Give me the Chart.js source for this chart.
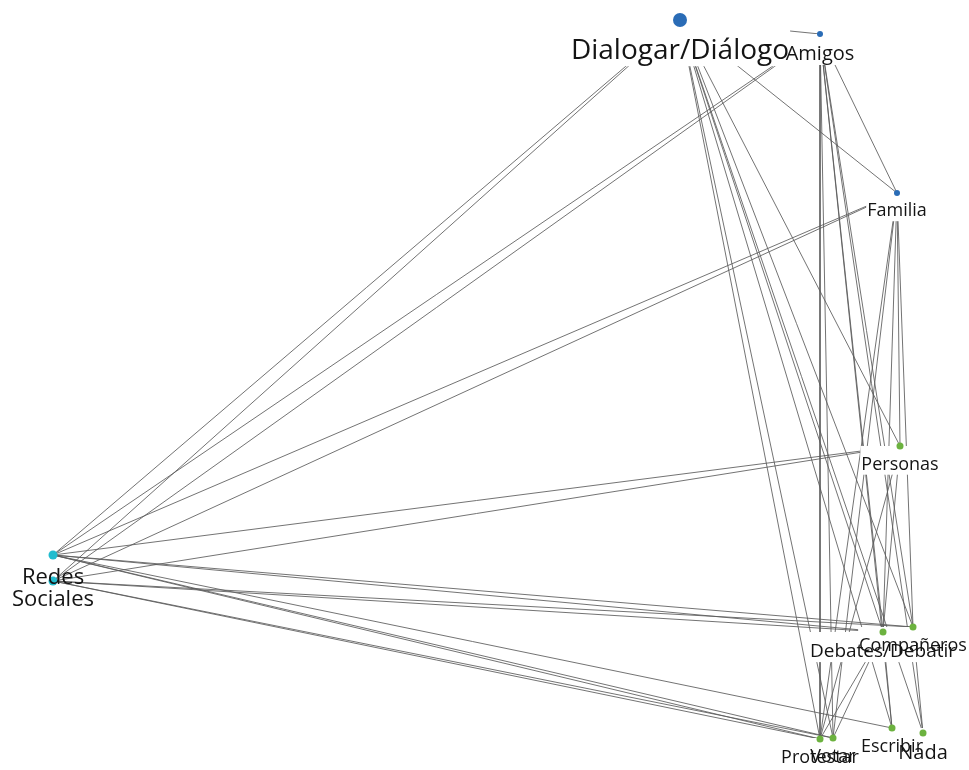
<!DOCTYPE html>
<html>
<head>
<meta charset="utf-8">
<script src="https://cdn.jsdelivr.net/npm/chart.js@4.4.0/dist/chart.umd.min.js"></script>
<style>
  body { margin: 0; background: #fff; }
  #wrap { width: 969px; height: 770px; }
</style>
</head>
<body>
<div id="wrap"><canvas id="netCanvas"></canvas></div>
<script>
// network nodes (layout coordinates) and links
const nodeNames = ['Dialogar/Diálogo', 'Amigos', 'Familia', 'Personas', 'Compañeros', 'Debates/Debatir',
                   'Escribir', 'Nada', 'Protestar', 'Votar', 'Redes\nSociales', ''];
const nodeX = [680, 820, 897, 900, 913, 883, 892, 923, 820, 833, 53, 53];
const nodeY = [20, 34, 193, 446, 627, 632, 728, 733, 739, 738, 555, 581];
const nodeWeight = [7, 3, 3, 3.5, 3.5, 3.5, 3.5, 3.5, 3.5, 3.5, 4.5, 4.5];
const nodeGroup = [1, 1, 1, 2, 2, 2, 2, 2, 2, 2, 3, 3];

const edgeFrom = [0, 0, 0, 0, 0, 0, 0, 0, 0, 0, 0,
                  1, 1, 1, 1, 1, 1, 1, 1, 1,
                  2, 2, 2, 2, 2, 2, 2,
                  3, 3, 3, 3,
                  4, 4, 4,
                  5, 5, 5, 5, 5,
                  6, 8, 8, 9, 9];
const edgeTo   = [1, 2, 3, 4, 5, 6, 7, 8, 9, 10, 11,
                  2, 4, 5, 6, 7, 8, 9, 10, 11,
                  3, 4, 5, 8, 9, 10, 11,
                  10, 11, 5, 8,
                  10, 11, 7,
                  10, 11, 8, 9, 6,
                  10, 10, 11, 10, 11];

// styling
const groupColors = { 1: '#2a6cb6', 2: '#6cb23f', 3: '#22bccf' };
const labelFont = { 0: 28, 1: 20, 5: 19, 7: 20, 10: 22, 11: 22 };
const fontFamily = '"Open Sans", "Noto Sans", sans-serif';

function fontSizeOf(i) { return labelFont[i] || 18; }
function labelCenter(i) {
  const fs = fontSizeOf(i);
  return { x: nodeX[i], y: nodeY[i] + nodeWeight[i] + fs * 0.85 };
}

const edgeSets = edgeFrom.map((f, k) => ({
  data: [{ x: nodeX[f], y: nodeY[f] }, { x: nodeX[edgeTo[k]], y: nodeY[edgeTo[k]] }],
  showLine: true,
  borderColor: 'rgba(90,90,90,0.85)',
  borderWidth: 1,
  pointRadius: 0,
  order: 1,
  clip: false
}));

const nodeSet = {
  data: nodeX.map((x, i) => ({ x: x, y: nodeY[i] })),
  pointRadius: nodeWeight,
  pointBackgroundColor: nodeGroup.map(g => groupColors[g]),
  pointBorderWidth: 0,
  order: 0,
  clip: false
};

// labels hide the links under them (from the dot down to the text bottom)
const labelPlugin = {
  id: 'nodeLabels',
  beforeDatasetDraw(chart, args) {
    if (args.index !== edgeSets.length) return;
    const ctx = chart.ctx, xs = chart.scales.x, ys = chart.scales.y;
    ctx.save();
    ctx.fillStyle = '#fff';
    nodeNames.forEach((name, i) => {
      if (!name || nodeGroup[i] === 3) return;
      const fs = fontSizeOf(i);
      ctx.font = fs + 'px ' + fontFamily;
      const c = labelCenter(i);
      const w = ctx.measureText(name).width + 2;
      const px = xs.getPixelForValue(c.x), py = ys.getPixelForValue(c.y);
      const top = ys.getPixelForValue(nodeY[i]);
      ctx.fillRect(px - w / 2, top, w, py + fs * 0.55 - top);
    });
    ctx.restore();
  },
  afterDatasetsDraw(chart) {
    const ctx = chart.ctx, xs = chart.scales.x, ys = chart.scales.y;
    ctx.save();
    ctx.fillStyle = '#141414';
    ctx.textAlign = 'center';
    ctx.textBaseline = 'middle';
    nodeNames.forEach((name, i) => {
      if (!name) return;
      const fs = fontSizeOf(i);
      ctx.font = fs + 'px ' + fontFamily;
      const c = labelCenter(i);
      const px = xs.getPixelForValue(c.x), py = ys.getPixelForValue(c.y);
      name.split('\n').forEach((line, j) => {
        ctx.fillText(line, px, py + j * fs);
      });
    });
    ctx.restore();
  }
};

const netChart = new Chart(document.getElementById('netCanvas'), {
  type: 'scatter',
  data: { datasets: edgeSets.concat([nodeSet]) },
  options: {
    animation: false,
    responsive: true,
    maintainAspectRatio: false,
    layout: { padding: 0, autoPadding: false },
    plugins: { legend: { display: false }, tooltip: { enabled: false } },
    scales: {
      x: { type: 'linear', min: 0, max: 969, display: false },
      y: { type: 'linear', min: 0, max: 770, reverse: true, display: false }
    }
  },
  plugins: [labelPlugin]
});
</script>
</body>
</html>
